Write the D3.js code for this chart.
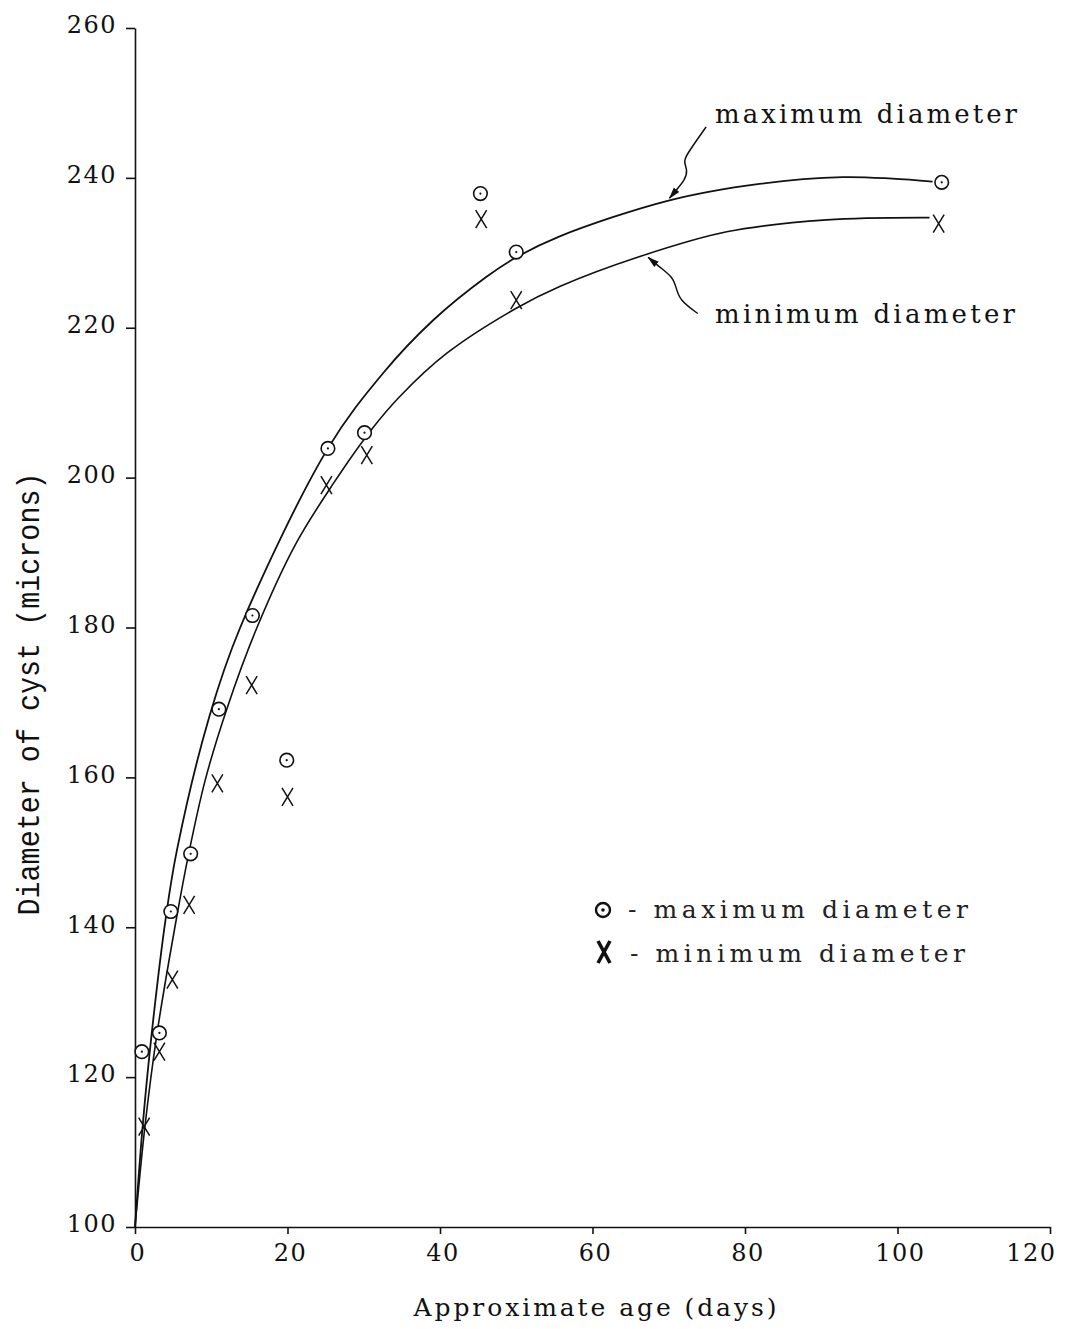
<!DOCTYPE html>
<html>
<head>
<meta charset="utf-8">
<script src="https://cdn.jsdelivr.net/npm/d3@7"></script>
<style>
  html, body { margin: 0; padding: 0; background: #fff; }
  svg { display: block; }
  .tick text { font-family: "DejaVu Serif", "Liberation Serif", serif; fill: #111; }
</style>
</head>
<body>
<svg id="chart" width="1067" height="1329"></svg>
<script>
// Cyst growth: observed diameters (microns) against approximate age (days)
const ageMax  = [0.9, 3.2, 4.7, 7.3, 11.0, 15.4, 19.9, 25.3, 30.1, 45.3, 50.0, 105.8];
const diamMax = [123.4, 125.9, 142.1, 149.8, 169.1, 181.6, 162.3, 203.9, 206.0, 237.9, 230.1, 239.4];
const ageMin  = [1.2, 3.2, 4.9, 7.1, 10.8, 15.3, 20.0, 25.1, 30.4, 45.4, 50.0, 105.4];
const diamMin = [113.4, 123.4, 133.0, 143.0, 159.2, 172.3, 157.4, 199.0, 203.0, 234.5, 223.7, 233.9];

// Hand-fitted growth curves (points along each drawn curve)
const maxCurveAge  = [0, 1.0, 2.2, 4.0, 5.5, 9.8, 13.8, 25.3, 32.5, 39.1, 46.1, 50.0, 55.7, 70.1, 81.9, 92.8, 99.3, 104.6];
const maxCurveDiam = [100, 113.4, 125.9, 141.0, 150.3, 168.3, 180.0, 203.9, 213.9, 221.0, 226.8, 229.4, 232.2, 237.0, 239.2, 240.1, 239.9, 239.5];
const minCurveAge  = [0, 1.3, 2.9, 5.6, 7.0, 9.2, 12.0, 16.0, 21.0, 26.0, 31.0, 34.7, 40.9, 50.0, 55.7, 66.2, 77.6, 90.7, 104.2];
const minCurveDiam = [100, 113.4, 125.9, 142.1, 149.6, 159.6, 169.0, 180.0, 191.0, 199.2, 206.4, 210.8, 216.6, 222.6, 225.5, 229.5, 232.8, 234.4, 234.7];

// Leader arrows from the curve labels (in data units)
const maxArrowAge  = [74.9, 74.0, 72.5, 71.9, 72.5, 72.1, 71.0, 70.1];
const maxArrowDiam = [246.8, 245.5, 243.3, 242.2, 241.0, 239.7, 238.4, 237.3];
const minArrowAge  = [73.8, 71.4, 71.0, 70.5, 68.8, 67.3];
const minArrowDiam = [221.9, 223.7, 225.3, 226.8, 228.1, 229.4];

const xTicks = [0, 20, 40, 60, 80, 100, 120];
const yTicks = [100, 120, 140, 160, 180, 200, 220, 240, 260];

const svg = d3.select("#chart");

const x = d3.scaleLinear().domain([0, 120]).range([135, 1050]);
const y = d3.scaleLinear().domain([100, 260]).range([1227, 28]);

const ink = "#111";
const serif = '"DejaVu Serif", "Liberation Serif", serif';

// Axes
const gx = svg.append("g").attr("transform", `translate(0,${y(100)})`)
  .call(d3.axisBottom(x).tickValues(xTicks).tickSize(7).tickSizeOuter(0).tickPadding(10));
gx.selectAll("text").attr("font-size", 24).attr("letter-spacing", 1.5).attr("dx", "0.1em");
// the last label is set flush with the end of the axis
gx.selectAll(".tick").filter(d => d === 120).select("text")
  .attr("text-anchor", "end").attr("dx", "0.25em");

const gy = svg.append("g").attr("transform", `translate(${x(0)},0)`)
  .call(d3.axisLeft(y).tickValues(yTicks).tickSize(9).tickSizeOuter(0).tickPadding(9));
gy.selectAll("text").attr("font-size", 24).attr("letter-spacing", 1.5).attr("dy", "0.2em");

svg.selectAll(".domain, .tick line").attr("stroke", ink).attr("stroke-width", 1.6);

// Axis titles
svg.append("text")
  .attr("x", 595).attr("y", 1316)
  .attr("text-anchor", "middle")
  .attr("font-family", serif).attr("font-size", 25).attr("fill", ink)
  .attr("textLength", 363).attr("lengthAdjust", "spacing")
  .text("Approximate age (days)");

svg.append("text")
  .attr("transform", "translate(39,694) rotate(-90)")
  .attr("text-anchor", "middle")
  .attr("font-family", '"Liberation Mono", "DejaVu Sans Mono", monospace')
  .attr("font-size", 31).attr("fill", ink)
  .attr("textLength", 443).attr("lengthAdjust", "spacingAndGlyphs")
  .text("Diameter of cyst (microns)");

// Curves
const line = d3.line().x(d => x(d[0])).y(d => y(d[1])).curve(d3.curveCatmullRom.alpha(0.5));
const zip = (a, b) => a.map((v, i) => [v, b[i]]);

svg.append("path").datum(zip(maxCurveAge, maxCurveDiam))
  .attr("d", line).attr("fill", "none").attr("stroke", ink).attr("stroke-width", 1.8);
svg.append("path").datum(zip(minCurveAge, minCurveDiam))
  .attr("d", line).attr("fill", "none").attr("stroke", ink).attr("stroke-width", 1.6);

// Arrowhead marker for leaders
svg.append("defs").append("marker")
  .attr("id", "head").attr("viewBox", "0 -5 12 10")
  .attr("refX", 11).attr("refY", 0)
  .attr("markerWidth", 12).attr("markerHeight", 10)
  .attr("markerUnits", "userSpaceOnUse")
  .attr("orient", "auto")
  .append("path").attr("d", "M0,-3.5L12,0L0,3.5Z").attr("fill", ink);

const leader = d3.line().x(d => x(d[0])).y(d => y(d[1])).curve(d3.curveBasis);
svg.append("path").datum(zip(maxArrowAge, maxArrowDiam))
  .attr("d", leader).attr("fill", "none").attr("stroke", ink).attr("stroke-width", 1.5)
  .attr("marker-end", "url(#head)");
svg.append("path").datum(zip(minArrowAge, minArrowDiam))
  .attr("d", leader).attr("fill", "none").attr("stroke", ink).attr("stroke-width", 1.5)
  .attr("marker-end", "url(#head)");

// Curve labels
svg.append("text").attr("x", 715).attr("y", 123)
  .attr("font-family", serif).attr("font-size", 26).attr("fill", ink)
  .attr("textLength", 302).attr("lengthAdjust", "spacing")
  .text("maximum diameter");
svg.append("text").attr("x", 715).attr("y", 323)
  .attr("font-family", serif).attr("font-size", 26).attr("fill", ink)
  .attr("textLength", 300).attr("lengthAdjust", "spacing")
  .text("minimum diameter");

// Markers: dotted circles for maximum diameter
const circ = svg.append("g").selectAll("g").data(zip(ageMax, diamMax)).join("g")
  .attr("transform", d => `translate(${x(d[0])},${y(d[1])})`);
circ.append("circle").attr("r", 6.8).attr("fill", "#fff").attr("stroke", ink).attr("stroke-width", 1.6);
circ.append("circle").attr("r", 1.1).attr("fill", ink);

// Markers: crosses for minimum diameter
const cross = (hw, hh) => `M${-hw},${-hh}L${hw},${hh}M${hw},${-hh}L${-hw},${hh}`;
svg.append("g").selectAll("path").data(zip(ageMin, diamMin)).join("path")
  .attr("transform", d => `translate(${x(d[0])},${y(d[1])})`)
  .attr("d", cross(5.5, 9)).attr("fill", "none").attr("stroke", ink).attr("stroke-width", 1.5);

// Legend
const lg = svg.append("g");
lg.append("circle").attr("cx", 603).attr("cy", 910).attr("r", 7).attr("fill", "#fff")
  .attr("stroke", ink).attr("stroke-width", 2.4);
lg.append("circle").attr("cx", 603).attr("cy", 910).attr("r", 1.8).attr("fill", ink);
lg.append("path").attr("transform", "translate(604,952)").attr("d", cross(6, 11))
  .attr("fill", "none").attr("stroke", ink).attr("stroke-width", 3.6);
lg.append("text").attr("x", 628).attr("y", 918)
  .attr("font-family", serif).attr("font-size", 25).attr("fill", "#222")
  .attr("textLength", 340).attr("lengthAdjust", "spacing")
  .text("- maximum diameter");
lg.append("text").attr("x", 630).attr("y", 962)
  .attr("font-family", serif).attr("font-size", 25).attr("fill", "#222")
  .attr("textLength", 335).attr("lengthAdjust", "spacing")
  .text("- minimum diameter");
</script>
</body>
</html>
